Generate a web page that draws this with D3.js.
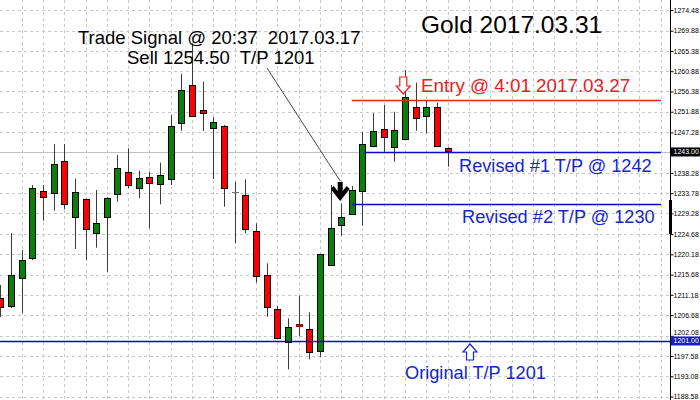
<!DOCTYPE html>
<html><head><meta charset="utf-8">
<script src="https://cdn.jsdelivr.net/npm/d3@7"></script>
<style>
html,body{margin:0;padding:0;background:#fff;}
svg{display:block;font-family:"Liberation Sans",Arial,sans-serif;}
</style></head><body>
<svg id="c" width="700" height="400"></svg>
<script>
// ---- data ----
const opens  = [1210.48,1208.70,1214.77,1219.30,1234.19,1233.75,1240.86,1228.32,1232.41,1225.04,1228.32,1233.52,1238.41,1234.86,1237.30,1235.75,1236.86,1249.44,1257.81,1252.26,1248.32,1248.70,1234.10,1233.37,1225.44,1215.59,1207.97,1200.64,1204.70,1203.59,1198.55,1217.97,1226.86,1229.08,1234.10,1244.26,1247.97,1244.10,1245.75,1252.92,1250.92,1252.86,1243.75];
const highs  = [1213.37,1224.92,1221.15,1235.59,1235.59,1244.70,1244.70,1236.99,1232.60,1234.48,1232.92,1242.26,1243.75,1238.77,1238.55,1240.55,1251.15,1260.26,1267.00,1258.55,1250.64,1248.92,1236.32,1236.86,1227.08,1218.19,1208.70,1205.97,1210.99,1207.30,1220.30,1235.59,1231.52,1235.37,1247.44,1251.52,1253.37,1251.88,1261.15,1258.32,1254.48,1253.88,1243.97];
const lows   = [1206.26,1208.26,1207.15,1218.92,1227.66,1229.88,1230.19,1221.37,1218.92,1221.66,1216.32,1231.88,1234.86,1232.64,1225.97,1231.30,1235.59,1247.66,1250.70,1247.59,1236.92,1230.77,1222.64,1224.86,1213.88,1206.32,1201.30,1194.64,1202.04,1196.86,1197.30,1217.90,1224.32,1229.00,1226.55,1243.97,1242.99,1240.77,1245.70,1247.66,1247.08,1244.20,1239.66];
const closes = [1208.48,1215.59,1218.86,1234.86,1232.86,1240.26,1231.30,1233.97,1225.75,1227.21,1232.64,1239.30,1235.44,1237.08,1235.97,1237.75,1248.70,1256.70,1250.99,1251.59,1249.66,1234.86,1234.06,1225.75,1215.37,1208.41,1201.52,1203.97,1204.37,1198.41,1220.19,1226.10,1228.55,1234.48,1244.64,1247.66,1246.19,1247.81,1255.08,1250.41,1252.86,1244.26,1243.05];
const tickValues = [1274.48,1269.88,1265.38,1260.88,1256.38,1251.88,1247.28,1238.28,1233.78,1229.28,1224.68,1220.18,1215.68,1211.18,1206.68,1202.08,1197.58,1193.08,1188.58];
const tickLabels = ["1274.48","1269.88","1265.38","1260.88","1256.38","1251.88","1247.28","1238.28","1233.78","1229.28","1224.68","1220.18","1215.68","1211.18","1206.68","1202.08","1197.58","1193.08","1188.58"];
const bidPrice = 1243.00;
const levelNames = ["entry","tp1","tp2","orig"];
const levelValues = [1254.50, 1243.00, 1231.30, 1201.00];
const levelStartBar = [33, 34.2, 33, 0];
const signalBar = 32;
const entryBar = 38;

// ---- scales ----
const svg = d3.select("#c");
const W = 700, H = 400, axisX = 670.5;
const x = d3.scaleLinear().domain([0, opens.length - 1]).range([0.3, 447.7]);
const y = d3.scaleLinear().domain([1188.58, 1274.48]).range([396.55, 10]);
const px = v => Math.round(v) + 0.5;

// ---- grid ----
const grid = svg.append("g");
grid.selectAll("line.h").data(tickValues).enter().append("line")
  .attr("x1", 0).attr("x2", axisX).attr("y1", d => px(y(d))).attr("y2", d => px(y(d)))
  .attr("stroke", "#c8c8c8").attr("stroke-dasharray", "3,3");
const vIdx = d3.range(2, 63, 2);
grid.selectAll("line.v").data(vIdx).enter().append("line")
  .attr("x1", d => px(x(d))).attr("x2", d => px(x(d))).attr("y1", 0).attr("y2", H)
  .attr("stroke", "#c8c8c8").attr("stroke-dasharray", "3,3");

// bid line
svg.append("line").attr("x1", 0).attr("x2", axisX)
  .attr("y1", px(y(bidPrice))).attr("y2", px(y(bidPrice)))
  .attr("stroke", "#c0c0c0");

// ---- candles ----
const cg = svg.append("g");
const idx = d3.range(opens.length);
cg.selectAll("line.w").data(idx).enter().append("line")
  .attr("x1", i => px(x(i))).attr("x2", i => px(x(i)))
  .attr("y1", i => y(highs[i])).attr("y2", i => y(lows[i]))
  .attr("stroke", "#3a3a3a");
idx.forEach(i => {
  const o = opens[i], c = closes[i];
  const cx = Math.round(x(i));
  const top = y(Math.max(o, c)), bot = y(Math.min(o, c));
  if (Math.abs(o - c) < 0.1) {
    cg.append("line").attr("x1", cx - 3).attr("x2", cx + 4)
      .attr("y1", px(top)).attr("y2", px(top)).attr("stroke", "#777");
  } else {
    const hgt = Math.max(1.5, bot - top);
    cg.append("rect").attr("x", cx - 3 + 0.5).attr("y", Math.round(top) + 0.5)
      .attr("width", 6).attr("height", Math.max(1, Math.round(hgt)))
      .attr("fill", c > o ? "#0a800a" : (hgt < 2.5 ? "#b01010" : "#ff0000"))
      .attr("stroke", hgt < 2.5 ? "#8a1010" : "#000");
  }
});

// ---- level lines ----
const levelColor = {entry:"#e8201c", tp1:"#0a0ac8", tp2:"#0a0ac8", orig:"#0a0ac8"};
levelNames.forEach((n, k) => {
  const yy = px(y(levelValues[k]));
  svg.append("line").attr("x1", k === 3 ? 0 : x(levelStartBar[k])).attr("x2", k === 3 ? axisX : 661)
    .attr("y1", yy).attr("y2", yy).attr("stroke", levelColor[n]).attr("stroke-width", 1.3);
});

// ---- annotations ----
const txt = (t, xx, yy, size, col) => svg.append("text").attr("x", xx).attr("y", yy)
  .attr("font-size", size).attr("fill", col).style("white-space", "pre").text(t);
txt("Gold 2017.03.31", 421, 33, 24.5, "#000");
txt("Trade Signal @ 20:37  2017.03.17", 78, 44, 18.5, "#000");
txt("Sell 1254.50  T/P 1201", 127, 64, 18.5, "#000");
txt("Entry @ 4:01 2017.03.27", 421, 92, 18.8, "#e8201c");
txt("Revised #1 T/P @ 1242", 459, 172, 18.2, "#1428c8");
txt("Revised #2 T/P @ 1230", 462, 223, 18.2, "#1428c8");
txt("Original T/P 1201", 405, 379, 18.2, "#1428c8");

// pointer line from signal text to the signal bar
const ax = x(signalBar) - 1;
svg.append("line").attr("x1", 267).attr("y1", 68).attr("x2", ax).attr("y2", 181)
  .attr("stroke", "#333").attr("stroke-width", 0.9);

// black signal arrow
svg.append("path")
  .attr("transform", `translate(${ax},182)`)
  .attr("d", "M-2.5,0 L2.5,0 L2.5,9 L6.5,4 L9.5,7 L0,19 L-9.5,7 L-6.5,4 L-2.5,9 Z")
  .attr("fill", "#000");

// red hollow down arrow above entry bar
const ex = x(entryBar) - 1.8;
svg.append("path")
  .attr("transform", `translate(${ex},77)`)
  .attr("d", "M-3.5,0 L3.5,0 L3.5,9 L7,9 L0,17 L-7,9 L-3.5,9 Z")
  .attr("fill", "#fff").attr("stroke", "#e8201c").attr("stroke-width", 1.2);

// blue hollow up arrow
svg.append("path")
  .attr("transform", "translate(470,344)")
  .attr("d", "M0,0 L7,8 L3.5,8 L3.5,16 L-3.5,16 L-3.5,8 L-7,8 Z")
  .attr("fill", "#fff").attr("stroke", "#1428c8").attr("stroke-width", 1.2);

// ---- right axis ----
const axis = d3.axisRight(y).tickValues(tickValues).tickSize(3).tickPadding(0)
  .tickFormat((d, i) => tickLabels[i]);
const ag = svg.append("g").attr("transform", `translate(${axisX},0)`).call(axis);
ag.select(".domain").remove();
ag.selectAll("text").attr("font-size", 7).attr("font-family", '"Liberation Sans",Arial,sans-serif').attr("fill", "#000");
// keep the label just above the 1201.00 box clear of it
ag.selectAll("text").filter(d => d === 1202.08).attr("dy", "-0.2em");
ag.selectAll("line").attr("stroke", "#000");
svg.append("line").attr("x1", axisX).attr("x2", axisX).attr("y1", 0).attr("y2", H).attr("stroke", "#000");
svg.append("rect").attr("x", axisX - 1.5).attr("y", 200).attr("width", 3).attr("height", 34).attr("fill", "#000");

// price boxes
const box = (v, fill) => {
  const yy = y(v);
  svg.append("rect").attr("x", 671).attr("y", yy - 4.2).attr("width", 29).attr("height", 9).attr("fill", fill);
  svg.append("text").attr("x", 673.5).attr("y", yy + 2.6).attr("font-size", 7).attr("fill", "#fff").text(v.toFixed(2));
};
box(bidPrice, "#000");
box(levelValues[3], "#1a1acc");
</script>
</body></html>
